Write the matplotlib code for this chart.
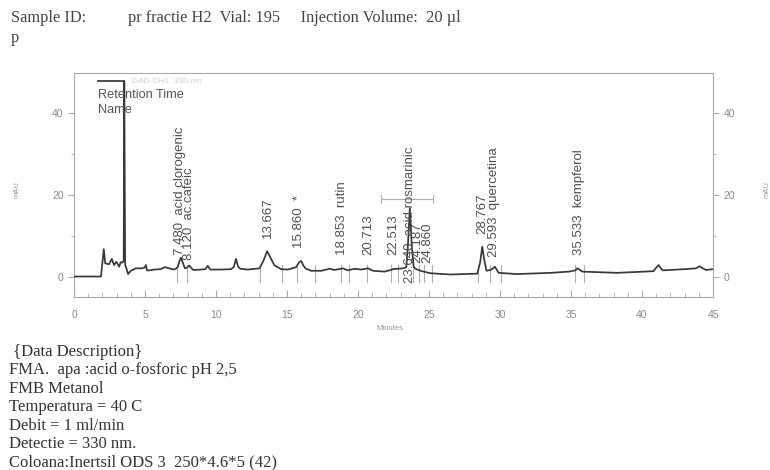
import matplotlib.pyplot as plt
from matplotlib.ticker import MultipleLocator

# chromatogram trace (minutes, mAU)
trace_time = [0, 1.9, 2.0, 2.1, 2.2, 2.47, 2.66, 2.82, 2.99, 3.18, 3.29, 3.42, 3.5, 3.54, 3.6,
              3.69, 3.81, 4.0, 4.35, 4.8, 4.98, 5.06, 5.14, 5.3, 5.65, 6.1, 6.4, 6.7, 7.06,
              7.29, 7.42, 7.53, 7.65, 7.81, 7.97, 8.12, 8.25, 8.4, 8.94, 9.25, 9.41, 9.6,
              10.35, 11.06, 11.25, 11.41, 11.55, 11.7, 12.24, 13.06, 13.35, 13.6, 13.85,
              14.12, 14.59, 15.06, 15.65, 15.85, 16.0, 16.15, 16.3, 16.7, 17.41, 18.0, 18.35,
              18.94, 19.29, 19.76, 20.24, 20.7, 21.06, 21.88, 22.3, 22.47, 23.18, 23.4,
              23.52, 23.65, 23.78, 23.92, 24.04, 24.4, 25.1, 26.5, 28.4, 28.6, 28.75, 28.9,
              29.05, 29.4, 29.64, 29.9, 31.2, 33.57, 34.86, 35.3, 35.45, 35.8, 38.26, 40.8,
              41.16, 41.45, 43.0, 43.8, 44.04, 44.5, 45.0]
trace_mau = [0.1, 0.1, 3.5, 6.8, 3.3, 3.1, 4.4, 2.9, 3.7, 2.5, 3.6, 3.5, 4.0, 47.8, 3.0,
             2.1, 0.7, 1.5, 2.1, 2.1, 2.3, 2.9, 1.6, 1.6, 1.8, 1.9, 2.4, 2.1, 1.8,
             2.3, 3.8, 4.7, 3.6, 2.1, 2.3, 2.8, 2.2, 1.7, 1.8, 1.9, 2.7, 1.8,
             1.8, 1.9, 2.4, 4.4, 2.6, 2.0, 1.8, 2.1, 4.0, 6.3, 4.6,
             2.8, 1.9, 1.8, 2.4, 3.6, 3.9, 2.8, 2.1, 1.5, 1.5, 2.0, 1.7,
             2.1, 1.6, 2.0, 1.8, 2.1, 1.5, 1.3, 1.7, 1.9, 2.1, 2.4,
             8.0, 16.8, 8.0, 2.5, 2.0, 1.5, 0.9, 0.6, 0.8, 3.5, 7.4, 4.0,
             1.5, 1.8, 2.5, 1.0, 0.7, 1.0, 1.3, 1.6, 2.1, 1.3, 1.0, 1.4,
             2.9, 1.6, 1.9, 2.1, 2.6, 1.7, 1.9]

# peak table
peak_times = [7.480, 8.120, 13.667, 15.860, 18.853, 20.713, 22.513, 23.640, 24.187,
              24.860, 28.767, 29.593, 35.533]
peak_names = ["acid clorogenic", "ac.cafeic", "", "*", "rutin", "", "", "acid rosmarinic",
              "", "", "", "quercetina", "kempferol"]
label_base = [5.4, 4.1, 9.5, 7.1, 5.4, 5.4, 5.4, -1.5, 3.4, 3.4, 10.5, 4.8, 5.4]

# integration start/stop marks
integ_marks = [7.27, 7.96, 13.08, 14.68, 15.68, 17.0, 18.82, 19.35, 20.6, 22.32, 22.8,
               23.9, 24.27, 24.65, 25.22, 28.45, 29.28, 30.04, 35.25, 35.9]

header = "Sample ID:"
header2 = "pr fractie H2  Vial: 195     Injection Volume:  20 µl"
description = [" {Data Description}",
               "FMA.  apa :acid o-fosforic pH 2,5",
               "FMB Metanol",
               "Temperatura = 40 C",
               "Debit = 1 ml/min",
               "Detectie = 330 nm.",
               "Coloana:Inertsil ODS 3  250*4.6*5 (42)"]

W, H = 770, 470
fig = plt.figure(figsize=(W / 100, H / 100), dpi=100)
ax = fig.add_axes([74 / W, 1 - 297 / H, (713 - 74) / W, (297 - 73) / H])

axis_col = "#a8a8a8"
ax.plot(trace_time, trace_mau, color="#383838", lw=1.25, zorder=3)
ax.set_xlim(0, 45)
ax.set_ylim(-4.9, 49.8)

for t in integ_marks:
    ax.plot([t, t], [-1.2, 3.0], color="#b0b0b0", lw=0.8, zorder=2)

for t, name, yb in zip(peak_times, peak_names, label_base):
    txt = f"{t:.3f}  {name}" if name else f"{t:.3f}"
    ax.text(t, yb, txt, rotation=90, ha="center", va="bottom", fontsize=9.5,
            family="Liberation Sans", color="#505050", zorder=4)

# window marker around the rosmarinic peak
ax.plot([21.6, 25.3], [19, 19], color="#b0b0b0", lw=0.8)
ax.plot([21.6, 21.6], [18, 20], color="#b0b0b0", lw=0.8)
ax.plot([25.3, 25.3], [18, 20], color="#b0b0b0", lw=0.8)

# channel legend
ax.plot([1.7, 3.54], [47.8, 47.8], color="#383838", lw=1.25)
ax.text(4.1, 47.8, "DAD-CH1  330 nm", fontsize=6, color="#d0d0d0",
        family="Liberation Sans", va="center")
ax.text(1.7, 44.4, "Retention Time", fontsize=9.2, color="#555555",
        family="Liberation Sans", va="center")
ax.text(1.7, 40.7, "Name", fontsize=9.2, color="#555555",
        family="Liberation Sans", va="center")

for s in ax.spines.values():
    s.set_color(axis_col)
    s.set_linewidth(0.8)
ax.xaxis.set_major_locator(MultipleLocator(5))
ax.xaxis.set_minor_locator(MultipleLocator(1))
ax.yaxis.set_major_locator(MultipleLocator(20))
ax.yaxis.set_minor_locator(MultipleLocator(10))
ax.tick_params(axis="x", which="both", direction="in", colors=axis_col,
               labelcolor="#8a8a8a", labelsize=7.5, pad=9)
ax.tick_params(axis="x", which="major", length=5)
ax.tick_params(axis="x", which="minor", length=3)
ax.tick_params(axis="y", which="both", direction="out", colors=axis_col,
               labelcolor="#8a8a8a", labelsize=7.5, right=True, labelright=True)
ax.tick_params(axis="y", which="major", length=4)
ax.tick_params(axis="y", which="minor", length=2.5)
for lab in ax.get_xticklabels() + ax.get_yticklabels():
    lab.set_family("Liberation Sans")

fig.text(17 / W, 1 - 190 / H, "mAU", rotation=90, fontsize=5.5, color="#999999",
         ha="center", va="center", family="Liberation Sans")
fig.text(767 / W, 1 - 190 / H, "mAU", rotation=90, fontsize=5.5, color="#999999",
         ha="center", va="center", family="Liberation Sans")
fig.text(390 / W, 1 - 328 / H, "Minutes", fontsize=5.5, color="#999999",
         ha="center", va="center", family="Liberation Sans")

serif = "Liberation Serif"
fig.text(11 / W, 1 - 18 / H, header, fontsize=11.8, color="#444444", family=serif, va="center")
fig.text(128 / W, 1 - 18 / H, header2, fontsize=11.8, color="#444444", family=serif, va="center")
fig.text(11 / W, 1 - 38 / H, "p", fontsize=11.8, color="#444444", family=serif, va="center")
for i, line in enumerate(description):
    fig.text(9 / W, 1 - (352 + i * 18.4) / H, line, fontsize=12, color="#333333",
             family=serif, va="center")

fig.savefig("out.png", dpi=100)
